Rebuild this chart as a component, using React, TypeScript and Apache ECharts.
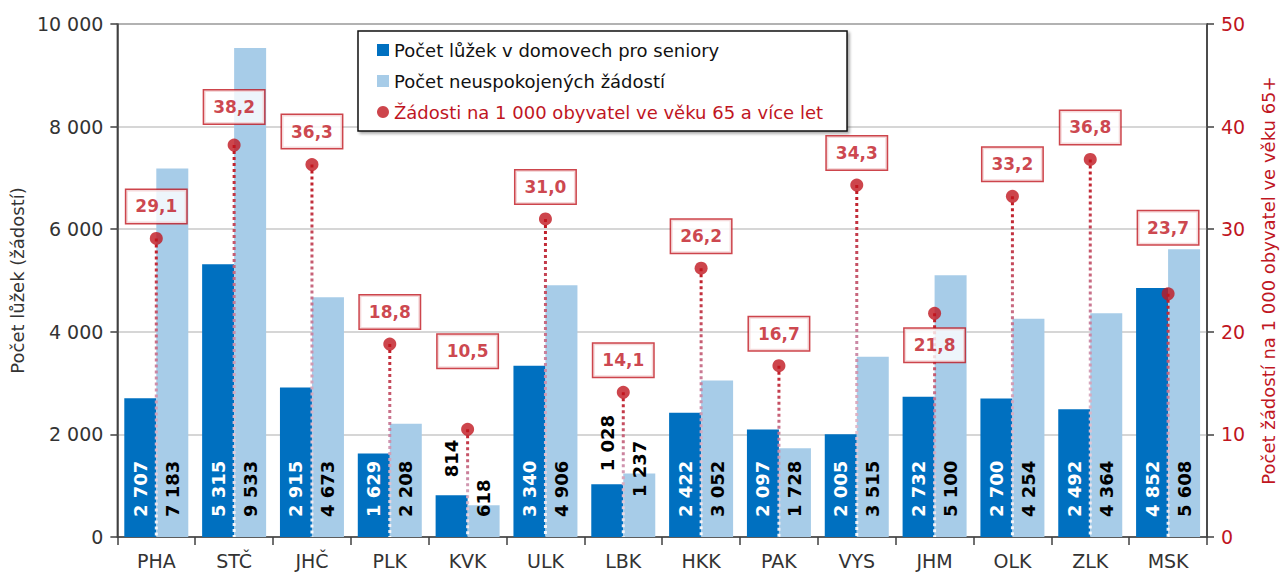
import React, { useEffect, useRef } from "react";
import * as echarts from "echarts";

// ---- data ----
const regions = ["PHA", "STČ", "JHČ", "PLK", "KVK", "ULK", "LBK", "HKK", "PAK", "VYS", "JHM", "OLK", "ZLK", "MSK"];
const beds = [2707, 5315, 2915, 1629, 814, 3340, 1028, 2422, 2097, 2005, 2732, 2700, 2492, 4852];
const unmetRequests = [7183, 9533, 4673, 2208, 618, 4906, 1237, 3052, 1728, 3515, 5100, 4254, 4364, 5608];
const requestsPer1000 = [29.1, 38.2, 36.3, 18.8, 10.5, 31.0, 14.1, 26.2, 16.7, 34.3, 21.8, 33.2, 36.8, 23.7];

const seriesNames = [
  "Počet lůžek v domovech pro seniory",
  "Počet neuspokojených žádostí",
  "Žádosti na 1 000 obyvatel ve věku 65 a více let",
];
const leftAxisName = "Počet lůžek (žádostí)";
const rightAxisName = "Počet žádostí na 1 000 obyvatel ve věku 65+";

// ---- styling ----
const FONT = "DejaVu Sans";
const DARK_BLUE = "#0070c0";
const LIGHT_BLUE = "#a7cce8";
const RED = "#c0161f";
const TEXT = "#333333";

const fmtInt = (v: number) => String(v).replace(/\B(?=(\d{3})+(?!\d))/g, "\u00a0");
const fmtDec = (v: number) => v.toFixed(1).replace(".", ",");

// label placement tweaks (layout only)
const rateLabelDistance: Record<string, number> = { STČ: 15, JHČ: 10, KVK: 55, MSK: 43 };
const rateLabelBelow: Record<string, boolean> = { JHM: true };
const bedLabelOnTop: Record<string, boolean> = { KVK: true, LBK: true };
const unmetLabelDistance: Record<string, number> = { LBK: 40 };

export default function App() {
  const ref = useRef<HTMLDivElement>(null);

  useEffect(() => {
    if (!ref.current) return;
    const chart = echarts.init(ref.current, undefined, { renderer: "svg" });

    const barLabelBase = {
      show: true,
      position: "insideBottom",
      distance: 20,
      rotate: 90,
      align: "left",
      verticalAlign: "middle",
      fontSize: 18,
      fontWeight: "bold",
      fontFamily: FONT,
    };

    const bedsData = beds.map((v, i) => {
      const r = regions[i];
      if (bedLabelOnTop[r]) {
        return {
          value: v,
          label: { position: "top", distance: r === "KVK" ? 18 : 13, color: "#000" },
        };
      }
      return { value: v };
    });

    const unmetData = unmetRequests.map((v, i) => {
      const r = regions[i];
      if (unmetLabelDistance[r] !== undefined) {
        return { value: v, label: { distance: unmetLabelDistance[r] } };
      }
      return { value: v };
    });

    const rateData = requestsPer1000.map((v, i) => {
      const r = regions[i];
      return {
        value: v,
        label: {
          position: rateLabelBelow[r] ? "bottom" : "top",
          distance: rateLabelDistance[r] !== undefined ? rateLabelDistance[r] : 9,
        },
      };
    });

    const dropData = requestsPer1000.map((v, i) => [i, v]);

    const option = {
      animation: false,
      textStyle: { fontFamily: FONT },
      grid: {
        left: 117,
        right: 78,
        top: 24,
        bottom: 38,
        show: true,
        borderColor: "#404040",
        borderWidth: 1.5,
        backgroundColor: "transparent",
      },
      legend: {
        orient: "vertical",
        left: 358,
        top: 31,
        padding: [9, 24, 9, 19],
        itemGap: 11,
        itemWidth: 12,
        itemHeight: 12,
        borderColor: "#111",
        borderWidth: 1.5,
        backgroundColor: "#fff",
        shadowColor: "rgba(0,0,0,0.35)",
        shadowBlur: 3,
        shadowOffsetX: 2,
        shadowOffsetY: 2,
        textStyle: { fontSize: 18, lineHeight: 20, color: "#111", fontFamily: FONT },
        data: [
          { name: seriesNames[0], icon: "rect" },
          { name: seriesNames[1], icon: "rect" },
          { name: seriesNames[2], icon: "circle", textStyle: { color: RED } },
        ],
      },
      xAxis: {
        type: "category",
        data: regions,
        axisLine: { lineStyle: { color: "#404040", width: 1.5 } },
        axisTick: { show: true, length: 8, lineStyle: { color: "#404040", width: 1.5 } },
        axisLabel: { color: TEXT, fontSize: 19, margin: 14, fontFamily: FONT },
      },
      yAxis: [
        {
          type: "value",
          min: 0,
          max: 10000,
          interval: 2000,
          name: leftAxisName,
          nameLocation: "middle",
          nameGap: 90,
          nameRotate: 90,
          nameTextStyle: { color: TEXT, fontSize: 18, fontFamily: FONT },
          axisLine: { show: true, lineStyle: { color: "#404040", width: 1.5 } },
          axisTick: { show: true, length: 7, lineStyle: { color: "#404040", width: 1.5 } },
          axisLabel: { color: TEXT, fontSize: 19, margin: 14, formatter: (v: number) => fmtInt(v), fontFamily: FONT },
          splitLine: { show: true, lineStyle: { color: "#c8c8c8", width: 1.5 } },
        },
        {
          type: "value",
          min: 0,
          max: 50,
          interval: 10,
          position: "right",
          name: rightAxisName,
          nameLocation: "middle",
          nameGap: 52,
          nameRotate: 90,
          nameTextStyle: { color: RED, fontSize: 18, fontFamily: FONT },
          axisLine: { show: true, lineStyle: { color: "#404040", width: 1.5 } },
          axisTick: { show: true, length: 7, lineStyle: { color: "#404040", width: 1.5 } },
          axisLabel: { color: RED, fontSize: 19, margin: 14, fontFamily: FONT },
          splitLine: { show: false },
        },
      ],
      series: [
        {
          name: seriesNames[0],
          type: "bar",
          yAxisIndex: 0,
          barWidth: 32,
          barGap: "0%",
          itemStyle: { color: DARK_BLUE },
          label: { ...barLabelBase, color: "#ffffff", formatter: (p: any) => fmtInt(p.value) },
          data: bedsData,
        },
        {
          name: seriesNames[1],
          type: "bar",
          yAxisIndex: 0,
          barWidth: 32,
          barGap: "0%",
          itemStyle: { color: LIGHT_BLUE },
          label: { ...barLabelBase, color: "#000000", formatter: (p: any) => fmtInt(p.value) },
          data: unmetData,
        },
        {
          name: "drop",
          type: "custom",
          yAxisIndex: 1,
          silent: true,
          z: 3,
          renderItem: (params: any, api: any) => {
            const idx = api.value(0);
            const val = api.value(1);
            const p0 = api.coord([idx, val]);
            const p1 = api.coord([idx, 0]);
            return {
              type: "line",
              shape: { x1: p0[0], y1: p0[1], x2: p1[0], y2: p1[1] },
              style: {
                stroke: new echarts.graphic.LinearGradient(
                  p0[0], p0[1], p1[0], p1[1],
                  [
                    { offset: 0, color: "rgba(192,22,31,1)" },
                    { offset: 0.45, color: "rgba(200,130,160,0.95)" },
                    { offset: 1, color: "rgba(255,255,255,0.95)" },
                  ],
                  true
                ),
                lineWidth: 3,
                lineDash: [3, 3],
              },
            };
          },
          data: dropData,
        },
        {
          name: seriesNames[2],
          type: "scatter",
          yAxisIndex: 1,
          symbol: "circle",
          symbolSize: 13,
          z: 5,
          itemStyle: { color: RED },
          label: {
            show: true,
            formatter: (p: any) => fmtDec(p.value),
            color: RED,
            fontSize: 17,
            fontWeight: "bold",
            fontFamily: FONT,
            lineHeight: 21,
            backgroundColor: "#ffffff",
            borderColor: RED,
            borderWidth: 1.5,
            padding: [6, 9, 6, 9],
          },
          data: rateData,
        },
      ],
    };

    chart.setOption(option as any);
    return () => chart.dispose();
  }, []);

  return (
    <div
      ref={ref}
      style={{ position: "fixed", left: 0, top: 0, width: 1285, height: 575, background: "#fff" }}
    />
  );
}
